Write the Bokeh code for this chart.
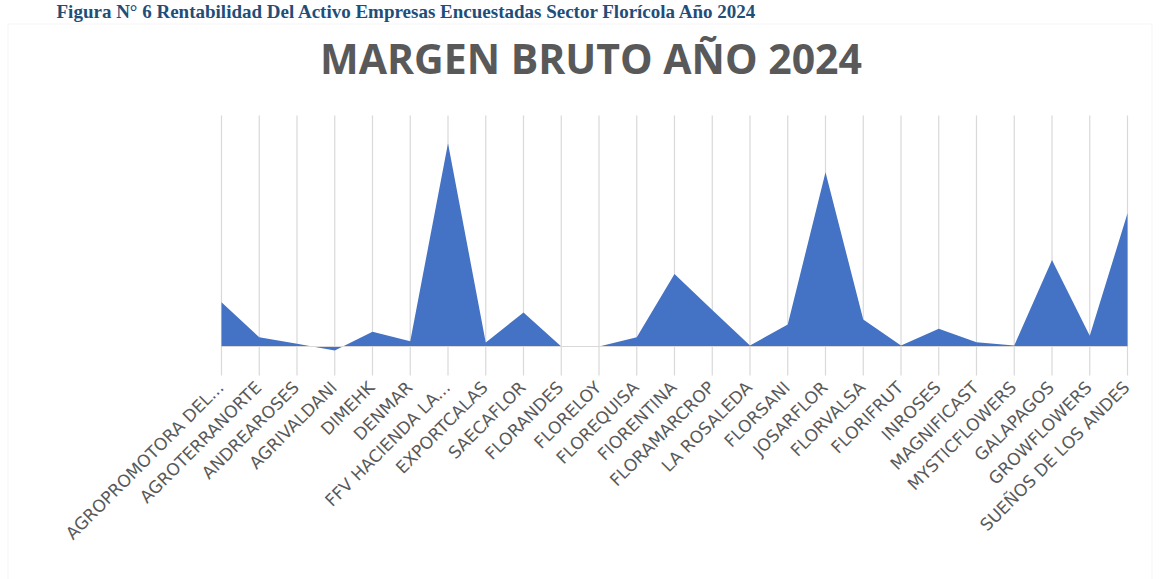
import math
from bokeh.plotting import figure
from bokeh.models import Range1d, Label, BoxAnnotation, ColumnDataSource
from bokeh.core.properties import value
from bokeh.embed import file_html
from bokeh.resources import INLINE

categories = [
    "AGROPROMOTORA DEL...", "AGROTERRANORTE", "ANDREAROSES", "AGRIVALDANI",
    "DIMEHK", "DENMAR", "FFV HACIENDA LA...", "EXPORTCALAS", "SAECAFLOR",
    "FLORANDES", "FLORELOY", "FLOREQUISA", "FIORENTINA", "FLORAMARCROP",
    "LA ROSALEDA", "FLORSANI", "JOSARFLOR", "FLORVALSA", "FLORIFRUT",
    "INROSES", "MAGNIFICAST", "MYSTICFLOWERS", "GALAPAGOS", "GROWFLOWERS",
    "SUEÑOS DE LOS ANDES",
]
margen = [
    0.307, 0.064, 0.019, -0.028, 0.102, 0.037, 1.408, 0.028, 0.235, 0.0,
    0.0, 0.064, 0.503, 0.253, 0.007, 0.152, 1.207, 0.187, 0.007, 0.123,
    0.030, 0.007, 0.600, 0.074, 0.923,
]
title_text = "MARGEN BRUTO AÑO 2024"
caption_text = "Figura N° 6 Rentabilidad Del Activo Empresas Encuestadas Sector Florícola Año 2024"

n = len(categories)
idx = list(range(n))
Y_MIN, Y_MAX = -0.2, 1.6          # value-axis extent of the plot area

# ---- layout (pixels of the 1162x579 canvas) ----
W, H = 1162, 579
PX_LEFT, PX_RIGHT = 221, 1127      # first / last category
PX_TOP, PX_ZERO = 115, 346         # Y_MAX / zero line
kx = (n - 1) / (PX_RIGHT - PX_LEFT)
ky = Y_MAX / (PX_ZERO - PX_TOP)


def px2x(px):
    return (px - PX_LEFT) * kx


def px2y(py):
    return (PX_ZERO - py) * ky


p = figure(width=W, height=H, output_backend="svg", toolbar_location=None,
           title=None, x_axis_location=None, y_axis_location=None,
           x_range=Range1d(px2x(0), px2x(W)), y_range=Range1d(px2y(H), px2y(0)),
           min_border=0)
p.min_border_left = p.min_border_right = p.min_border_top = p.min_border_bottom = 0
p.background_fill_color = "white"
p.border_fill_color = "white"
p.outline_line_color = None
p.grid.visible = False

# chart-area border (bottom edge runs off the canvas, like the reference)
p.add_layout(BoxAnnotation(left=px2x(7.5), right=px2x(1151.5), top=px2y(23.5),
                           bottom=px2y(H + 50), fill_color=None, fill_alpha=0,
                           line_color="#d9d9d9", line_width=1))

# vertical gridlines at every category
p.segment(x0=idx, y0=[Y_MIN] * n, x1=idx, y1=[Y_MAX] * n,
          line_color="#d9d9d9", line_width=1.2)

# area series
p.varea(x=idx, y1=[0] * n, y2=margen, fill_color="#4472c4")

# horizontal category axis line at zero
p.line(x=[idx[0], idx[-1]], y=[0, 0], line_color="#d9d9d9", line_width=1.2)

# category labels, rotated 45 degrees, ending at each gridline
lab_src = ColumnDataSource(dict(x=idx, y=[Y_MIN] * n, text=categories))
p.text(x="x", y="y", text="text", source=lab_src, angle=math.pi / 4,
       text_align="right", text_baseline="middle", x_offset=-1, y_offset=9,
       text_font=value("DejaVu Sans"), text_font_size="17px", text_color="#595959")

# chart title
p.add_layout(Label(x=px2x(590.5), y=px2y(57), text=title_text, text_align="center",
                   text_baseline="alphabetic", text_font="Open Sans",
                   text_font_style="bold", text_font_size="41px", text_color="#595959"))

# document caption above the chart
p.add_layout(Label(x=px2x(56), y=px2y(11), text=caption_text, text_align="left",
                   text_baseline="alphabetic", text_font="Liberation Serif",
                   text_font_style="bold", text_font_size="19px", text_color="#1F4E79"))

open("out.html", "w").write(file_html(p, INLINE))
